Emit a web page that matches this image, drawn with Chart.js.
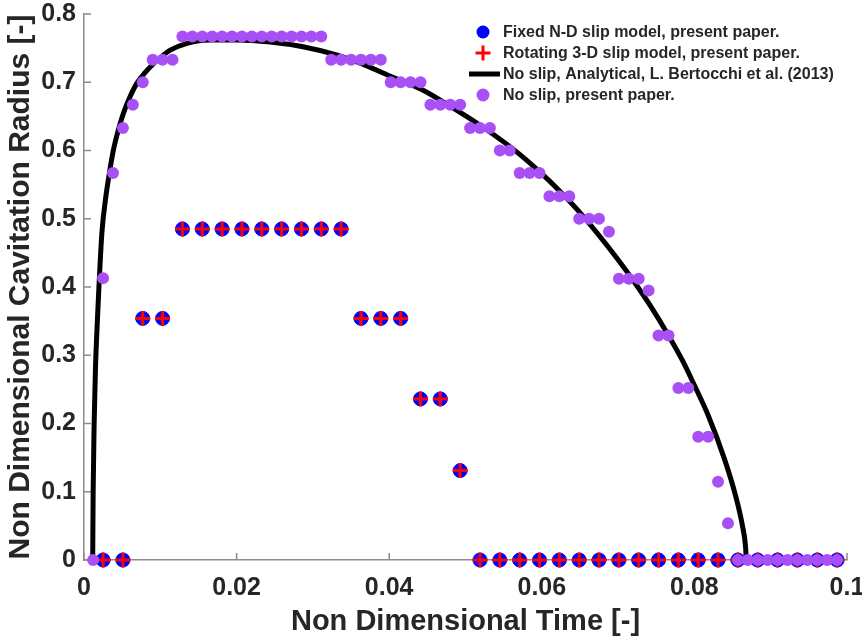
<!DOCTYPE html>
<html>
<head>
<meta charset="utf-8">
<script src="https://cdn.jsdelivr.net/npm/chart.js@4.4.1/dist/chart.umd.min.js"></script>
<style>
  html, body { margin: 0; padding: 0; background: #ffffff; }
  canvas { display: block; }
</style>
</head>
<body>
<canvas id="chart" width="862" height="639"></canvas>
<script>
// ---- data -------------------------------------------------------------
// Fixed N-D slip model (sampled every other time step)
const fixedTime = [
  0.0025, 0.0051, 0.0077, 0.0103, 0.0129, 0.0155, 0.0181, 0.0207, 0.0233, 0.0259,
  0.0285, 0.0311, 0.0337, 0.0363, 0.0389, 0.0415, 0.0441, 0.0467, 0.0493, 0.0519,
  0.0545, 0.0571, 0.0597, 0.0623, 0.0649, 0.0675, 0.0701, 0.0727, 0.0753, 0.0779,
  0.0805, 0.0831, 0.0857, 0.0883, 0.0909, 0.0935, 0.0961, 0.0987
];
const fixedRadius = [
  0, 0, 0.354, 0.354, 0.485, 0.485, 0.485, 0.485, 0.485, 0.485,
  0.485, 0.485, 0.485, 0.354, 0.354, 0.354, 0.236, 0.236, 0.131, 0,
  0, 0, 0, 0, 0, 0, 0, 0, 0, 0,
  0, 0, 0, 0, 0, 0, 0, 0
];

// Rotating 3-D slip model
const rotatingTime = [
  0.0025, 0.0051, 0.0077, 0.0103, 0.0129, 0.0155, 0.0181, 0.0207, 0.0233, 0.0259,
  0.0285, 0.0311, 0.0337, 0.0363, 0.0389, 0.0415, 0.0441, 0.0467, 0.0493, 0.0519,
  0.0545, 0.0571, 0.0597, 0.0623, 0.0649, 0.0675, 0.0701, 0.0727, 0.0753, 0.0779,
  0.0805, 0.0831, 0.0857, 0.0883, 0.0909, 0.0935, 0.0961, 0.0987
];
const rotatingRadius = [
  0, 0, 0.354, 0.354, 0.485, 0.485, 0.485, 0.485, 0.485, 0.485,
  0.485, 0.485, 0.485, 0.354, 0.354, 0.354, 0.236, 0.236, 0.131, 0,
  0, 0, 0, 0, 0, 0, 0, 0, 0, 0,
  0, 0, 0, 0, 0, 0, 0, 0
];

// No slip, present paper
const noSlipTime = [
  0.0012, 0.0025, 0.0038, 0.0051, 0.0064, 0.0077, 0.0090, 0.0103, 0.0116, 0.0129,
  0.0142, 0.0155, 0.0168, 0.0181, 0.0194, 0.0207, 0.0220, 0.0233, 0.0246, 0.0259,
  0.0272, 0.0285, 0.0298, 0.0311, 0.0324, 0.0337, 0.0350, 0.0363, 0.0376, 0.0389,
  0.0402, 0.0415, 0.0428, 0.0441, 0.0454, 0.0467, 0.0480, 0.0493, 0.0506, 0.0519,
  0.0532, 0.0545, 0.0558, 0.0571, 0.0584, 0.0597, 0.0610, 0.0623, 0.0636, 0.0649,
  0.0662, 0.0675, 0.0688, 0.0701, 0.0714, 0.0727, 0.0740, 0.0753, 0.0766, 0.0779,
  0.0792, 0.0805, 0.0818, 0.0831, 0.0844, 0.0857, 0.0870, 0.0883, 0.0896, 0.0909,
  0.0922, 0.0935, 0.0948, 0.0961, 0.0974, 0.0987
];
const noSlipRadius = [
  0, 0.413, 0.567, 0.633, 0.667, 0.700, 0.733, 0.733, 0.733, 0.767,
  0.767, 0.767, 0.767, 0.767, 0.767, 0.767, 0.767, 0.767, 0.767, 0.767,
  0.767, 0.767, 0.767, 0.767, 0.733, 0.733, 0.733, 0.733, 0.733, 0.733,
  0.700, 0.700, 0.700, 0.700, 0.667, 0.667, 0.667, 0.667, 0.633, 0.633,
  0.633, 0.600, 0.600, 0.567, 0.567, 0.567, 0.533, 0.533, 0.533, 0.500,
  0.500, 0.500, 0.481, 0.412, 0.412, 0.412, 0.395, 0.329, 0.329, 0.252,
  0.252, 0.1805, 0.1805, 0.1146, 0.0537, 0, 0, 0, 0, 0,
  0, 0, 0, 0, 0, 0
];

// No slip, analytical (L. Bertocchi et al., 2013)
const analyticalTime = [
  0.00114, 0.00120, 0.00133, 0.00150, 0.00175, 0.00200, 0.00235, 0.00280, 0.00330, 0.00384,
  0.00450, 0.00515, 0.0060, 0.0069, 0.0080, 0.0091, 0.0102, 0.0113, 0.0135, 0.0165,
  0.0200, 0.0244, 0.0287, 0.0331, 0.0362, 0.0401, 0.0445, 0.0484, 0.0523, 0.0567,
  0.0597, 0.0624, 0.0654, 0.0698, 0.0724, 0.0742, 0.0766, 0.0785, 0.0800, 0.0818,
  0.0840, 0.0854, 0.0863, 0.0867, 0.0868
];
const analyticalRadius = [
  0, 0.100, 0.200, 0.280, 0.350, 0.410, 0.480, 0.527, 0.565, 0.600,
  0.630, 0.654, 0.678, 0.698, 0.714, 0.727, 0.738, 0.747, 0.757, 0.762,
  0.762, 0.759, 0.752, 0.740, 0.728, 0.709, 0.688, 0.662, 0.634, 0.598,
  0.569, 0.540, 0.504, 0.443, 0.403, 0.373, 0.329, 0.291, 0.256, 0.212,
  0.146, 0.094, 0.050, 0.020, 0
];

const seriesLabels = [
  'Fixed N-D slip model, present paper.',
  'Rotating 3-D slip model, present paper.',
  'No slip, Analytical, L. Bertocchi et al. (2013)',
  'No slip, present paper.'
];

const xTickValues = [0, 0.02, 0.04, 0.06, 0.08, 0.1];
const xTickLabels = ['0', '0.02', '0.04', '0.06', '0.08', '0.1'];
const yTickValues = [0, 0.1, 0.2, 0.3, 0.4, 0.5, 0.6, 0.7, 0.8];
const yTickLabels = ['0', '0.1', '0.2', '0.3', '0.4', '0.5', '0.6', '0.7', '0.8'];

const xTitle = 'Non Dimensional Time [-]';
const yTitle = 'Non Dimensional Cavitation Radius [-]';

// ---- styling ----------------------------------------------------------
const FONT = '"Liberation Sans", Arial, Helvetica, sans-serif';
const TEXT_COLOR = '#262626';
const AXIS_COLOR = '#8c8c8c';
const BLUE = '#0000ff';
const RED = '#ff0000';
const PURPLE = '#a94ff6';

function toPoints(xs, ys) {
  return xs.map((x, i) => ({ x: x, y: ys[i] }));
}

// Inward tick marks along the left and bottom axes
const innerTicks = {
  id: 'innerTicks',
  beforeDatasetsDraw(chart) {
    const { ctx, chartArea, scales } = chart;
    ctx.save();
    ctx.strokeStyle = AXIS_COLOR;
    ctx.lineWidth = 1.5;
    ctx.beginPath();
    scales.x.ticks.forEach(t => {
      const px = scales.x.getPixelForValue(t.value);
      ctx.moveTo(px, chartArea.bottom);
      ctx.lineTo(px, chartArea.bottom - 7);
    });
    scales.y.ticks.forEach(t => {
      const py = scales.y.getPixelForValue(t.value);
      ctx.moveTo(chartArea.left, py);
      ctx.lineTo(chartArea.left + 7, py);
    });
    ctx.stroke();
    ctx.restore();
  }
};

// Legend drawn inside the plotting area, top right
const innerLegend = {
  id: 'innerLegend',
  afterDraw(chart) {
    const { ctx } = chart;
    const markerX = 483;
    const textX = 503;
    const firstRow = 32;
    const rowStep = 21;
    ctx.save();
    chart.data.datasets.forEach((ds, i) => {
      const y = firstRow + i * rowStep;
      if (ds.legendKind === 'circle') {
        ctx.fillStyle = ds.backgroundColor;
        ctx.beginPath();
        ctx.arc(markerX, y, 6.5, 0, Math.PI * 2);
        ctx.fill();
      } else if (ds.legendKind === 'cross') {
        ctx.strokeStyle = ds.borderColor;
        ctx.lineWidth = 3;
        ctx.beginPath();
        ctx.moveTo(markerX - 7.5, y);
        ctx.lineTo(markerX + 7.5, y);
        ctx.moveTo(markerX, y - 7.5);
        ctx.lineTo(markerX, y + 7.5);
        ctx.stroke();
      } else {
        ctx.strokeStyle = ds.borderColor;
        ctx.lineWidth = 5;
        ctx.beginPath();
        ctx.moveTo(markerX - 14, y);
        ctx.lineTo(markerX + 17, y);
        ctx.stroke();
      }
      ctx.fillStyle = TEXT_COLOR;
      ctx.font = 'bold 16px ' + FONT;
      ctx.textAlign = 'left';
      ctx.textBaseline = 'middle';
      ctx.fillText(ds.label, textX, y + 1);
    });
    ctx.restore();
  }
};

new Chart(document.getElementById('chart'), {
  type: 'scatter',
  data: {
    datasets: [
      {
        label: seriesLabels[0],
        legendKind: 'circle',
        data: toPoints(fixedTime, fixedRadius),
        pointStyle: 'circle',
        pointRadius: 7,
        pointBorderWidth: 1,
        backgroundColor: BLUE,
        borderColor: BLUE,
        showLine: false,
        clip: false,
        order: 3
      },
      {
        label: seriesLabels[1],
        legendKind: 'cross',
        data: toPoints(rotatingTime, rotatingRadius),
        pointStyle: 'cross',
        pointRadius: 7.5,
        pointBorderWidth: 3,
        backgroundColor: RED,
        borderColor: RED,
        showLine: false,
        clip: false,
        order: 2
      },
      {
        type: 'line',
        label: seriesLabels[2],
        legendKind: 'line',
        data: toPoints(analyticalTime, analyticalRadius),
        borderColor: '#000000',
        backgroundColor: '#000000',
        borderWidth: 5,
        pointRadius: 0,
        fill: false,
        cubicInterpolationMode: 'monotone',
        clip: false,
        order: 1
      },
      {
        label: seriesLabels[3],
        legendKind: 'circle',
        data: toPoints(noSlipTime, noSlipRadius),
        pointStyle: 'circle',
        pointRadius: 6,
        pointBorderWidth: 0,
        backgroundColor: PURPLE,
        borderColor: PURPLE,
        showLine: false,
        clip: false,
        order: 0
      }
    ]
  },
  options: {
    responsive: false,
    animation: false,
    events: [],
    layout: { padding: { top: 14, right: 15, left: 0, bottom: 0 } },
    plugins: {
      legend: { display: false },
      tooltip: { enabled: false }
    },
    scales: {
      x: {
        type: 'linear',
        min: 0,
        max: 0.1,
        afterBuildTicks: s => { s.ticks = xTickValues.map(v => ({ value: v })); },
        afterFit: s => { s.height = 79; s.paddingLeft = 0; s.paddingRight = 0; },
        ticks: {
          callback: (v, i) => xTickLabels[i],
          font: { family: FONT, size: 25, weight: 'bold' },
          color: TEXT_COLOR,
          padding: 13,
          maxRotation: 0,
          autoSkip: false
        },
        grid: { display: false, drawTicks: false },
        border: { display: true, color: AXIS_COLOR, width: 1.5 },
        title: {
          display: true,
          text: xTitle,
          font: { family: FONT, size: 29, weight: 'bold' },
          color: TEXT_COLOR,
          padding: { top: 0, bottom: 0 }
        }
      },
      y: {
        type: 'linear',
        min: 0,
        max: 0.8,
        afterBuildTicks: s => { s.ticks = yTickValues.map(v => ({ value: v })); },
        afterFit: s => { s.width = 84; s.paddingTop = 0; s.paddingBottom = 0; },
        ticks: {
          callback: (v, i) => yTickLabels[i],
          font: { family: FONT, size: 25, weight: 'bold' },
          color: TEXT_COLOR,
          padding: 8,
          autoSkip: false
        },
        grid: { display: false, drawTicks: false },
        border: { display: true, color: AXIS_COLOR, width: 1.5 },
        title: {
          display: true,
          text: yTitle,
          font: { family: FONT, size: 30, weight: 'bold' },
          color: TEXT_COLOR,
          padding: { top: 3, bottom: 0 }
        }
      }
    }
  },
  plugins: [innerTicks, innerLegend]
});
</script>
</body>
</html>
